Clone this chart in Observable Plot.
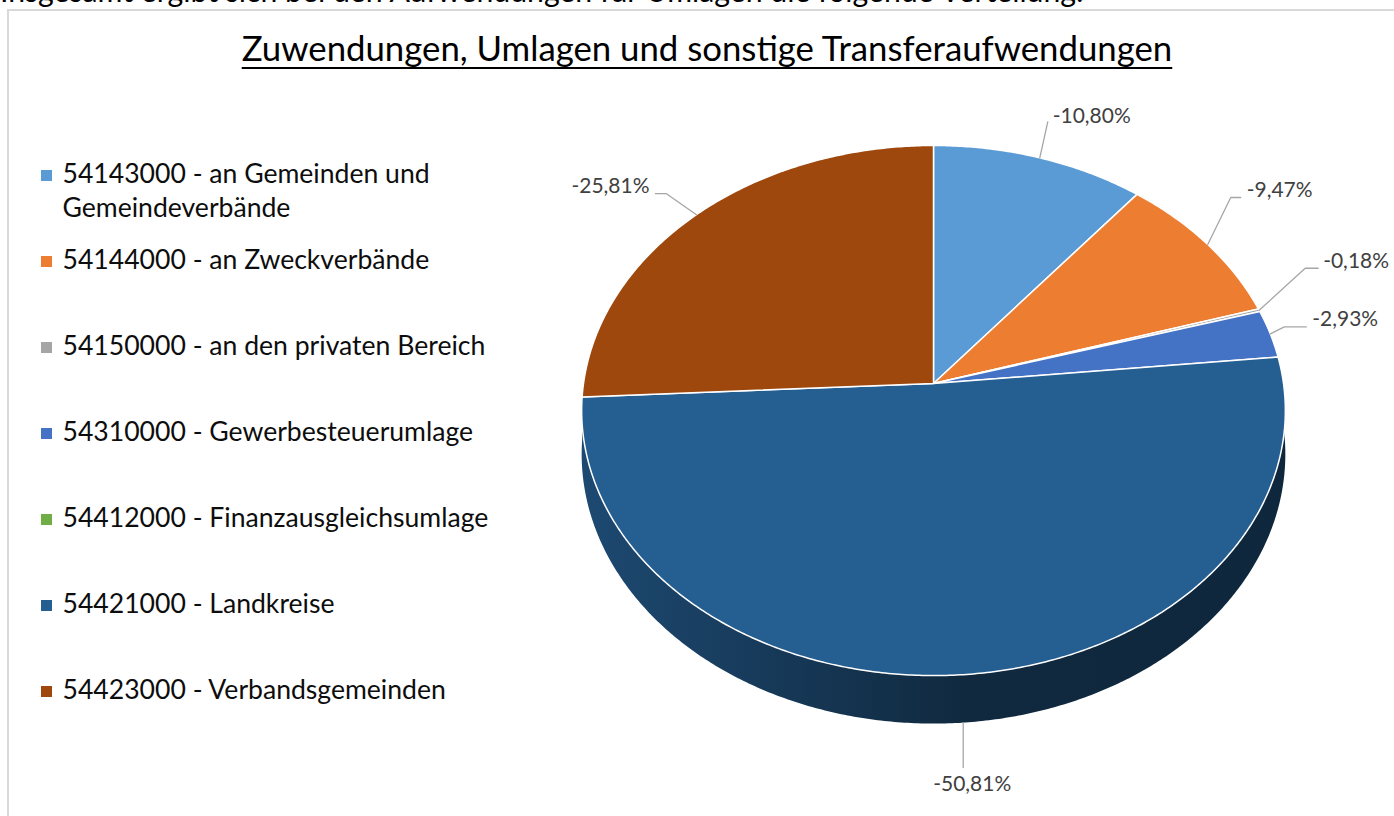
<!DOCTYPE html>
<html><head><meta charset="utf-8">
<script src="https://cdn.jsdelivr.net/npm/d3@7"></script>
<script src="https://cdn.jsdelivr.net/npm/@observablehq/plot@0.6"></script>
<style>
html,body{margin:0;background:#fff;overflow:hidden;}
#wrap{position:relative;width:1394px;height:816px;overflow:hidden;background:#fff;font-family:Lato,"Open Sans",sans-serif;}
#intro{position:absolute;left:0;white-space:nowrap;color:#000;line-height:1;}
#frame{position:absolute;left:7px;top:9px;width:1500px;height:1000px;border-left:2px solid #d9d9d9;border-top:2px solid #d9d9d9;}
#title{position:absolute;left:0;width:1414px;text-align:center;white-space:nowrap;color:#000;line-height:1;font-weight:400;
  text-decoration:underline;text-decoration-thickness:2px;text-underline-offset:6px;text-decoration-skip-ink:none;}
#wrap svg{position:absolute;left:0;top:0;}
</style></head>
<body><div id="wrap"><div id="frame"></div><div id="intro"></div><div id="title"></div></div>
<script>
// ---------- data ----------
const categories = [
  "54143000 - an Gemeinden und Gemeindeverbände",
  "54144000 - an Zweckverbände",
  "54150000 - an den privaten Bereich",
  "54310000 - Gewerbesteuerumlage",
  "54412000 - Finanzausgleichsumlage",
  "54421000 - Landkreise",
  "54423000 - Verbandsgemeinden"
];
const shares = [-10.80, -9.47, -0.18, -2.93, 0, -50.81, -25.81];
const colors = ["#5B9BD5", "#ED7D31", "#A5A5A5", "#4472C4", "#70AD47", "#255E91", "#9E480E"];
const titleText = "Zuwendungen, Umlagen und sonstige Transferaufwendungen";
const introText = "Insgesamt ergibt sich bei den Aufwendungen für Umlagen die folgende Verteilung:";

// ---------- layout (pixels): leader [dx, dy, horizontal], text offset [tx, ty] ----------
const labelLayout = [[8,-36,0,5,-6],[23,-47,10,6,-7],[46,-42,13,5,-7],[14,-7,22,6,-8],null,[0,45,0,9,17],[-30,-21,-11,-6,-7]];
const G = {cx: 933, cy: 383, A: 350, B: 262.3, k: 0.102, h: 0.1643};
const FONT = "Lato";

// ---------- font fitting ----------
const ctx = document.createElement("canvas").getContext("2d");
function fit(text, target, weight = 400) { ctx.font = `${weight} 100px ${FONT}`; return 100 * target / ctx.measureText(text).width; }
const fsTitle = fit(titleText, 932, 400);
const fsIntro = fit(introText, 1087);
const fsLegend = fit("54412000 - Finanzausgleichsumlage", 426);
const fsLabel = fit("-10,80%", 78);

const intro = document.getElementById("intro");
intro.textContent = introText; intro.style.fontSize = fsIntro + "px"; intro.style.top = (2 - 0.887 * fsIntro) + "px";
const title = document.getElementById("title");
title.textContent = titleText; title.style.fontSize = fsTitle + "px"; title.style.top = (61.7 - 0.887 * fsTitle) + "px";

// ---------- geometry ----------
const total = d3.sum(shares, v => Math.abs(v));
let acc = 0;
const slices = categories.map((cat, i) => {
  const a0 = acc / total * 2 * Math.PI; acc += Math.abs(shares[i]);
  const a1 = acc / total * 2 * Math.PI;
  return {cat, i, value: shares[i], a0, a1};
});
function rim(t, bottom = false) {
  const u = Math.sin(t), v = Math.cos(t), d = 1 + G.k * v;
  return {x: u / d, y: v / d - (bottom ? G.h / d : 0)};
}
function arc(a0, a1, bottom) {
  const n = Math.max(2, Math.ceil((a1 - a0) / (Math.PI / 360)));
  return d3.range(n + 1).map(j => rim(a0 + (a1 - a0) * j / n, bottom));
}
const topPts = slices.filter(s => s.a1 > s.a0).flatMap(s =>
  [{x: 0, y: 0}, ...arc(s.a0, s.a1, false), {x: 0, y: 0}].map(p => ({...p, cat: s.cat})));
const sides = slices.map(s => {
  const s0 = Math.max(s.a0, Math.PI / 2), s1 = Math.min(s.a1, 3 * Math.PI / 2);
  if (!(s1 > s0)) return null;
  return {i: s.i, pts: [...arc(s0, s1, false), ...arc(s0, s1, true).reverse()]};
}).filter(Boolean);

const fmt = d3.formatLocale({decimal: ",", thousands: ".", grouping: [3], currency: ["", "€"], minus: "-"}).format(".2f");
const labelData = slices.filter(s => s.value !== 0).map(s => {
  const m = (s.a0 + s.a1) / 2;
  const front = Math.cos(m) < -G.k;
  const a = rim(m, front);
  const [dx, dy, h, tx, ty] = labelLayout[s.i];
  const e = {x: a.x + dx / G.A, y: a.y - dy / G.B};
  const f = {x: e.x + h / G.A, y: e.y};
  return {cat: s.cat, pts: [a, e, f], tx: f.x + tx / G.A, ty: f.y - ty / G.B,
    anchor: dy > 0 ? "middle" : (tx < 0 ? "end" : "start"), text: fmt(s.value) + "%"};
});
const leaderPts = labelData.flatMap(d => d.pts.map(p => ({...p, cat: d.cat})));

// ---------- main plot ----------
const chart = Plot.plot({
  width: 1394, height: 816, margin: 0,
  style: {background: "transparent", fontFamily: FONT + ", sans-serif"},
  x: {domain: [-1, 1], range: [G.cx - G.A, G.cx + G.A], axis: null},
  y: {domain: [-1, 1], range: [G.cy + G.B, G.cy - G.B], axis: null},
  color: {domain: categories, range: colors},
  marks: [
    ...sides.map(s => Plot.line(s.pts, {x: "x", y: "y", fill: `url(#side${s.i})`, stroke: "none"})),
    Plot.line(topPts, {x: "x", y: "y", z: "cat", fill: "cat", stroke: "#ffffff", strokeWidth: 1.5, strokeLinejoin: "round"}),
    Plot.line(leaderPts, {x: "x", y: "y", z: "cat", stroke: "#a6a6a6", strokeWidth: 1.3}),
    ...["start", "end", "middle"].map(a => Plot.text(labelData.filter(d => d.anchor === a),
      {x: "tx", y: "ty", text: "text", textAnchor: a, fontSize: fsLabel, fill: "#404040"}))
  ]
});
const ns = "http://www.w3.org/2000/svg";
const defs = document.createElementNS(ns, "defs");
slices.forEach(s => {
  const g = document.createElementNS(ns, "linearGradient");
  g.setAttribute("id", "side" + s.i);
  g.setAttribute("x1", "0"); g.setAttribute("x2", "1"); g.setAttribute("y1", "0"); g.setAttribute("y2", "0");
  [[0, 0.7], [0.55, 2.35], [1, 2.45]].forEach(([o, k]) => {
    const st = document.createElementNS(ns, "stop");
    st.setAttribute("offset", o); st.setAttribute("stop-color", d3.color(colors[s.i]).darker(k).formatHex());
    g.appendChild(st);
  });
  defs.appendChild(g);
});
chart.prepend(defs);
document.getElementById("wrap").appendChild(chart);

// ---------- legend ----------
const legend = Plot.plot({
  width: 560, height: 816, margin: 0,
  style: {background: "transparent", fontFamily: FONT + ", sans-serif"},
  y: {type: "point", padding: 0, domain: categories, range: [173, 692], axis: null},
  color: {domain: categories, range: colors},
  marks: [
    Plot.dot(categories, {y: d => d, fill: d => d, symbol: "square", r: 6.2, frameAnchor: "left", dx: 46}),
    Plot.text(categories, {y: d => d, text: d => d, frameAnchor: "left", dx: 62, textAnchor: "start",
      lineWidth: 18, lineHeight: 34 / fsLegend, lineAnchor: "top", dy: -0.39 * fsLegend - 6, fontSize: fsLegend, fill: "#0d0d0d"})
  ]
});
document.getElementById("wrap").appendChild(legend);
</script>
</body></html>
